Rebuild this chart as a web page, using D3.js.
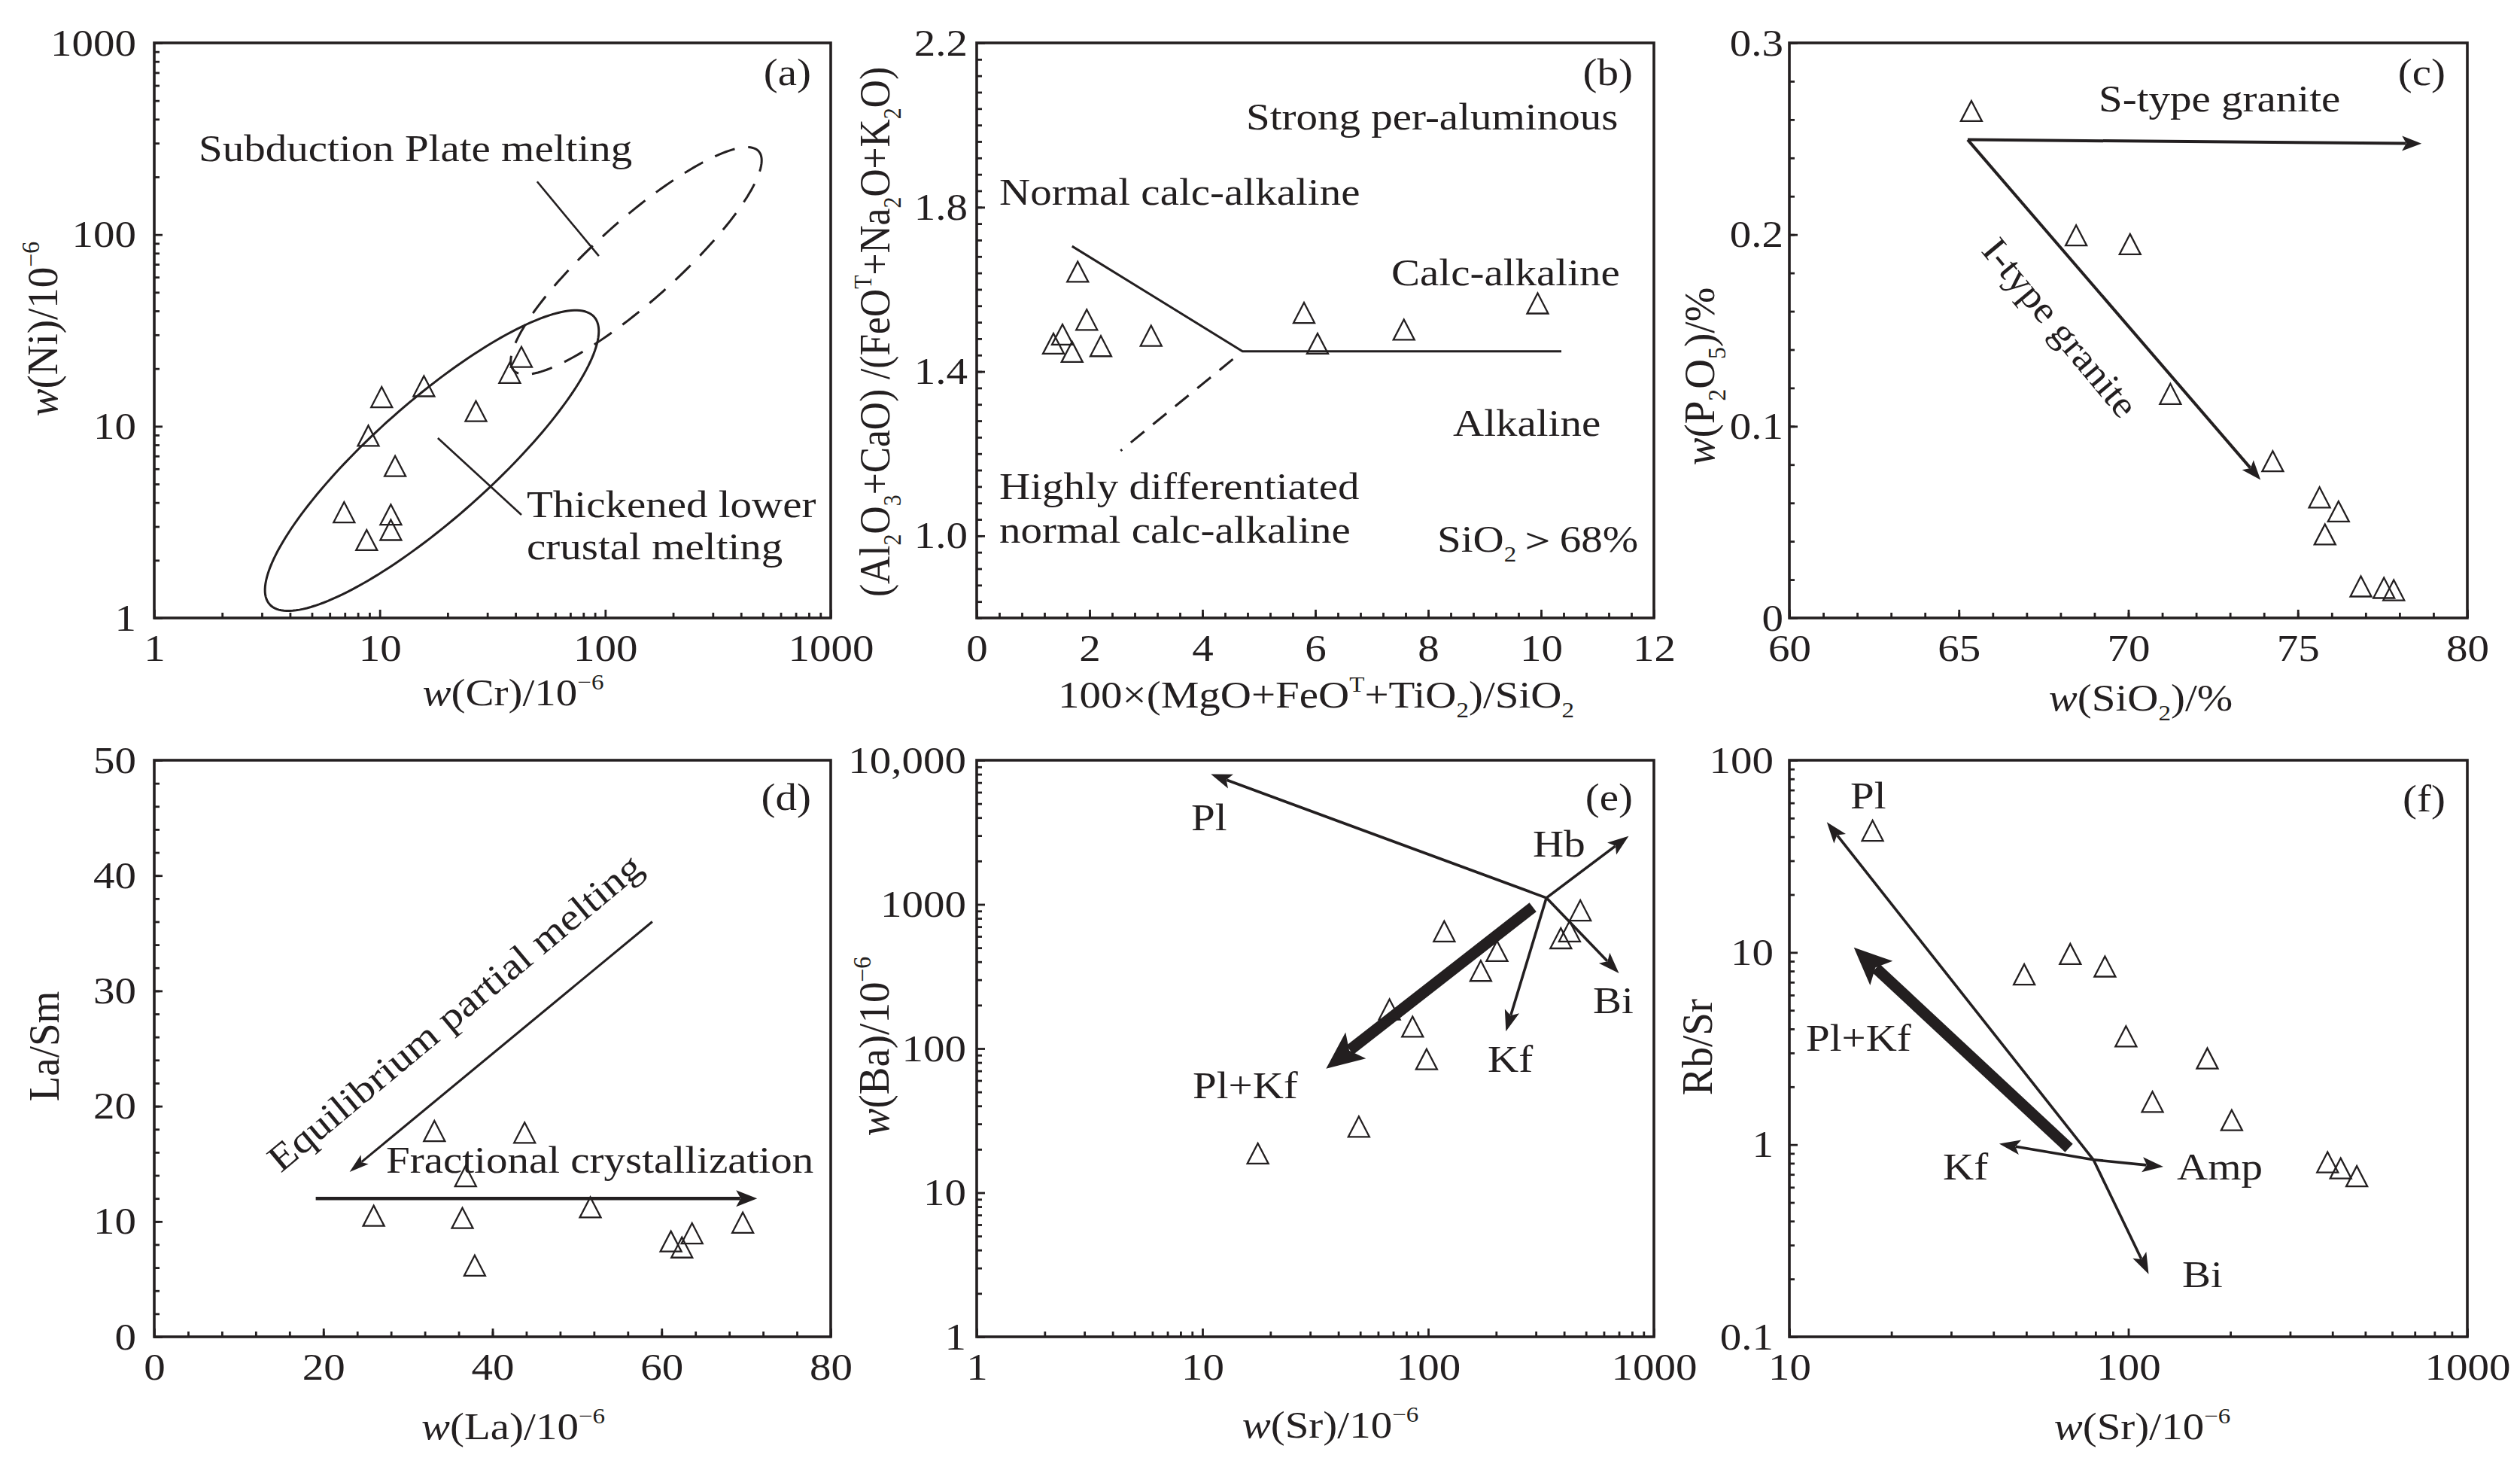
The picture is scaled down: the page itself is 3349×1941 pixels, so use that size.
<!DOCTYPE html>
<html>
<head>
<meta charset="utf-8">
<script src="https://cdn.jsdelivr.net/npm/d3@7"></script>
<style>
body { margin: 0; background: #fff; }
svg text { font-family: "Liberation Serif", "Times New Roman", serif; fill: #231f20; }
</style>
</head>
<body>
<svg id="fig" width="3349" height="1941"></svg>
<script>
// ---------- data ----------

// (a) Cr vs Ni
const crA = [6.95, 8.75, 8.9, 10.2, 11.7, 11.2, 11.2, 15.7, 26.7, 37.7, 42.5];
const niA = [3.56, 2.55, 8.93, 14.2, 6.2, 3.46, 2.88, 16.2, 12.0, 19.0, 23.0];
// field outlines: centre (Cr, Ni), then two conjugate half-axes in log10 decades
const thickenedField  = [17.03, 6.62, 0.7198, 0.7496, 0.1726, -0.2294];
const subductionField = [137.2, 72.98, 0.5433, 0.5714, 0.1201, -0.1581];
const leadersA = [[[49.9, 189], [93.7, 77.3]], [[18.1, 8.68], [42.5, 3.45]]];

// (b) 100*(MgO+FeOT+TiO2)/SiO2 vs (Al2O3+CaO)/(FeOT+Na2O+K2O)
const fmtB  = [1.36, 1.52, 1.69, 1.79, 1.95, 2.20, 3.09, 5.80, 6.04, 7.57, 9.94];
const acnkB = [1.468, 1.49, 1.448, 1.643, 1.526, 1.462, 1.487, 1.543, 1.468, 1.502, 1.566];
const boundaryB = [[1.69, 1.705], [4.71, 1.449], [10.36, 1.449]];
const dashedB   = [[4.54, 1.43], [2.55, 1.207]];

// (c) SiO2 vs P2O5
const sio2C = [65.37, 68.46, 70.05, 71.24, 74.26, 75.64, 76.2, 75.8, 76.86, 77.54, 77.83];
const p2o5C = [0.2645, 0.1996, 0.195, 0.1169, 0.0818, 0.0629, 0.0556, 0.0436, 0.0165, 0.0157, 0.0145];
const trendsC = [[[65.26, 0.2495], [78.65, 0.2475]], [[65.26, 0.2495], [73.9, 0.0721]]];

// (d) La vs La/Sm
const laD   = [25.95, 33.13, 36.82, 36.44, 37.9, 43.8, 51.57, 61.1, 62.4, 63.6, 69.6];
const lasmD = [10.5, 17.85, 13.93, 10.3, 6.18, 17.7, 11.23, 8.28, 7.75, 8.97, 9.9];
const meltingD = [[58.9, 36.0], [23.1, 14.3]];
const fractD   = [[19.1, 12.0], [71.3, 12.0]];

// (e) Sr vs Ba, (f) Sr vs Rb/Sr  (same samples)
const srEF = [17.6, 49.3, 67.4, 85.3, 98.4, 117.8, 171, 201.8, 387, 423, 472];
const baE  = [18.7, 28.7, 186.7, 141.8, 84.3, 650, 346, 475, 582, 650, 908];
const rbsrF = [43, 7.68, 9.82, 8.45, 3.66, 1.67, 2.81, 1.34, 0.81, 0.753, 0.685];
const vectorOriginE = [334, 1110];
const vectorTipsE = [[10.9, 8000], [773, 2980], [700, 333], [221, 131.5]];   // Pl, Hb, Bi, Kf
const mixVectorE = [[291, 956], [35.3, 72.6]];                                  // Pl+Kf
const vectorOriginF = [78.9, 0.834];
const vectorTipsF = [[12.9, 47.6], [114.8, 0.212], [41.6, 1.01], [126.8, 0.767]]; // Pl, Bi, Kf, Amp
const mixVectorF = [[66.8, 0.96], [15.5, 10.6]];

// tick labels
const decadesA = [1, 10, 100, 1000];
const ticksBx = [0, 2, 4, 6, 8, 10, 12];
const ticksBy = [1.0, 1.4, 1.8, 2.2];
const ticksCx = [60, 65, 70, 75, 80];
const ticksCy = [0, 0.1, 0.2, 0.3];
const ticksDx = [0, 20, 40, 60, 80];
const ticksDy = [0, 10, 20, 30, 40, 50];
const decadesEx = [1, 10, 100, 1000];
const decadesEy = [1, 10, 100, 1000, 10000];
const decadesFx = [10, 100, 1000];
const decadesFy = [0.1, 1, 10, 100];

// ---------- layout ----------
const ink = "#231f20";
const FS = 50, SX = 1.14;
const cols = [[205, 1104], [1298, 2198], [2378, 3279]];
const rows = [[57, 821], [1010, 1776]];

const svg = d3.select("#fig");

function makePanel(col, row, xs, ys) {
  const [x0, x1] = cols[col], [y0, y1] = rows[row];
  xs.range([x0, x1]);
  ys.range([y1, y0]);
  return {g: svg.append("g"), x: xs, y: ys, x0, x1, y0, y1, pt: d => [xs(d[0]), ys(d[1])]};
}

const logMinor = (lo, hi) => d3.range(Math.round(Math.log10(lo)), Math.round(Math.log10(hi)))
  .flatMap(e => d3.range(2, 10).map(k => k * Math.pow(10, e)));
const linMinor = (lo, hi, step) => d3.range(0, Math.round((hi - lo) / step) + 1).map(i => lo + i * step);

function styleAxis(sel) {
  sel.select(".domain").remove();
  sel.selectAll(".tick line").attr("stroke", ink).attr("stroke-width", 2.8);
  sel.selectAll(".tick text").style("font-size", FS + "px").attr("fill", ink)
    .attr("transform", `scale(${SX},1)`);
}

function axes(p, xMaj, xMin, yMaj, yMin, xFmt, yFmt, yGap) {
  p.g.append("g").attr("transform", `translate(0,${p.y1})`)
    .call(d3.axisBottom(p.x).tickSizeOuter(0).tickValues(xMin).tickSizeInner(-7).tickFormat("")).call(styleAxis);
  p.g.append("g").attr("transform", `translate(0,${p.y1})`)
    .call(d3.axisBottom(p.x).tickSizeOuter(0).tickValues(xMaj).tickSizeInner(-11).tickPadding(22).tickFormat(xFmt)).call(styleAxis);
  p.g.append("g").attr("transform", `translate(${p.x0},0)`)
    .call(d3.axisLeft(p.y).tickSizeOuter(0).tickValues(yMin).tickSizeInner(-7).tickFormat("")).call(styleAxis);
  p.g.append("g").attr("transform", `translate(${p.x0},0)`)
    .call(d3.axisLeft(p.y).tickSizeOuter(0).tickValues(yMaj).tickSizeInner(-11).tickPadding(yGap / SX).tickFormat(yFmt)).call(styleAxis);
  p.g.append("rect").attr("x", p.x0).attr("y", p.y0)
    .attr("width", p.x1 - p.x0).attr("height", p.y1 - p.y0)
    .attr("fill", "none").attr("stroke", ink).attr("stroke-width", 3.6);
}

// text with italic / sub / sup runs
function label(g, x, y, parts, opt = {}) {
  const size = opt.size || FS;
  const t = g.append("text")
    .attr("transform", `translate(${x},${y}) rotate(${opt.rot || 0}) scale(${opt.sx || SX},${opt.sy || 1})`)
    .attr("text-anchor", opt.anchor || "start")
    .style("font-size", size + "px");
  let off = 0;
  parts.forEach(q => {
    if (typeof q === "string") q = {t: q};
    const want = q.sub ? 0.26 * size : q.sup ? -0.42 * size : 0;
    const ts = t.append("tspan").text(q.t).attr("dy", want - off);
    off = want;
    if (q.sub || q.sup) ts.style("font-size", (0.58 * size) + "px");
    if (q.it) ts.style("font-style", "italic");
  });
  return t;
}
// y titles: the source figure is stretched horizontally, i.e. across these rotated glyphs
const yTitle = (g, x, y, parts, along) => label(g, x, y, parts, {anchor: "middle", rot: -90, sx: along, sy: SX});

const triangle = "M0,-13.5L14,13.5L-14,13.5Z";
function points(p, xs, ys) {
  p.g.append("g").selectAll("path").data(d3.zip(xs, ys)).join("path")
    .attr("d", triangle)
    .attr("transform", d => `translate(${p.x(d[0])},${p.y(d[1])})`)
    .attr("fill", "none").attr("stroke", ink).attr("stroke-width", 2.3);
}

function arrow(g, a, b, w, hl, hw) {
  const dx = b[0] - a[0], dy = b[1] - a[1], L = Math.hypot(dx, dy);
  const ux = dx / L, uy = dy / L;
  g.append("line")
    .attr("x1", a[0]).attr("y1", a[1])
    .attr("x2", b[0] - ux * hl * 0.8).attr("y2", b[1] - uy * hl * 0.8)
    .attr("stroke", ink).attr("stroke-width", w);
  const bx = b[0] - ux * hl, by = b[1] - uy * hl;
  g.append("path")
    .attr("d", `M${b[0]},${b[1]}L${bx - uy * hw},${by + ux * hw}L${b[0] - ux * hl * 0.78},${b[1] - uy * hl * 0.78}L${bx + uy * hw},${by - ux * hw}Z`)
    .attr("fill", ink);
}

function field(p, f, dash) {
  const [cx, cy, ax, ay, bx, by] = f;
  const ring = d3.range(0, 361, 2).map(a => {
    const t = a * Math.PI / 180;
    return [cx * Math.pow(10, Math.cos(t) * ax + Math.sin(t) * bx),
            cy * Math.pow(10, Math.cos(t) * ay + Math.sin(t) * by)];
  });
  p.g.append("path").datum(ring)
    .attr("d", d3.line().x(d => p.x(d[0])).y(d => p.y(d[1])).curve(d3.curveLinearClosed))
    .attr("fill", "none").attr("stroke", ink).attr("stroke-width", 3)
    .attr("stroke-dasharray", dash);
}

function polyline(p, pts, w, dash) {
  p.g.append("path").datum(pts)
    .attr("d", d3.line().x(d => p.x(d[0])).y(d => p.y(d[1])))
    .attr("fill", "none").attr("stroke", ink).attr("stroke-width", w)
    .attr("stroke-dasharray", dash);
}

const plain = d => String(d);
const wUnit = (el) => [{t: "w", it: true}, "(" + el + ")/10", {t: "\u22126", sup: true}];

// ---------- (a) ----------
{
  const p = makePanel(0, 0, d3.scaleLog().domain([1, 1000]), d3.scaleLog().domain([1, 1000]));
  axes(p, decadesA, logMinor(1, 1000), decadesA, logMinor(1, 1000), plain, plain, 24);
  field(p, thickenedField, null);
  field(p, subductionField, "28 18");
  leadersA.forEach(l => polyline(p, l, 2.6, null));
  points(p, crA, niA);
  label(p.g, 1078, 113, ["(a)"], {anchor: "end"});
  label(p.g, 264, 214, ["Subduction Plate melting"]);
  label(p.g, 700, 687, ["Thickened lower"]);
  label(p.g, 700, 743, ["crustal melting"]);
  label(p.g, 682, 937, wUnit("Cr"), {anchor: "middle"});
  yTitle(p.g, 76, 437, wUnit("Ni"), 1.1);
}

// ---------- (b) ----------
{
  const p = makePanel(1, 0, d3.scaleLinear().domain([0, 12]), d3.scaleLinear().domain([0.8, 2.2]));
  axes(p, ticksBx, linMinor(0, 12, 0.4), ticksBy, linMinor(0.8, 2.2, 0.04), plain, d3.format(".1f"), 12);
  polyline(p, boundaryB, 3, null);
  polyline(p, dashedB, 3, "23 15");
  points(p, fmtB, acnkB);
  label(p.g, 2170, 113, ["(b)"], {anchor: "end"});
  label(p.g, 1656, 172, ["Strong per-aluminous"]);
  label(p.g, 1328, 272, ["Normal calc-alkaline"]);
  label(p.g, 1849, 379, ["Calc-alkaline"]);
  label(p.g, 1931, 579, ["Alkaline"]);
  label(p.g, 1328, 663, ["Highly differentiated"]);
  label(p.g, 1328, 721, ["normal calc-alkaline"]);
  label(p.g, 1910, 733, ["SiO", {t: "2", sub: true}, "\uFF1E68%"]);
  label(p.g, 1749, 940, ["100\u00D7(MgO+FeO", {t: "T", sup: true}, "+TiO", {t: "2", sub: true}, ")/SiO", {t: "2", sub: true}], {anchor: "middle"});
  yTitle(p.g, 1182, 441, ["(Al", {t: "2", sub: true}, "O", {t: "3", sub: true}, "+CaO) /(FeO", {t: "T", sup: true},
    "+Na", {t: "2", sub: true}, "O+K", {t: "2", sub: true}, "O)"], 1.03);
}

// ---------- (c) ----------
{
  const p = makePanel(2, 0, d3.scaleLinear().domain([60, 80]), d3.scaleLinear().domain([0, 0.3]));
  axes(p, ticksCx, linMinor(60, 80, 1), ticksCy, linMinor(0, 0.3, 0.02), plain, plain, 8);
  trendsC.forEach(t => arrow(p.g, p.pt(t[0]), p.pt(t[1]), 4, 26, 10));
  points(p, sio2C, p2o5C);
  label(p.g, 3250, 113, ["(c)"], {anchor: "end"});
  label(p.g, 2789, 148, ["S-type granite"]);
  label(p.g, 2725, 446, ["I-type granite"], {anchor: "middle", rot: 50.3, sx: 1.08});
  label(p.g, 2845, 944, [{t: "w", it: true}, "(SiO", {t: "2", sub: true}, ")/%"], {anchor: "middle"});
  yTitle(p.g, 2278, 500, [{t: "w", it: true}, "(P", {t: "2", sub: true}, "O", {t: "5", sub: true}, ")/%"], 1.1);
}

// ---------- (d) ----------
{
  const p = makePanel(0, 1, d3.scaleLinear().domain([0, 80]), d3.scaleLinear().domain([0, 50]));
  axes(p, ticksDx, linMinor(0, 80, 4), ticksDy, linMinor(0, 50, 2), plain, plain, 24);
  arrow(p.g, p.pt(meltingD[0]), p.pt(meltingD[1]), 3, 26, 8);
  arrow(p.g, p.pt(fractD[0]), p.pt(fractD[1]), 4.5, 28, 11);
  points(p, laD, lasmD);
  label(p.g, 1078, 1076, ["(d)"], {anchor: "end"});
  label(p.g, 615, 1358, ["Equilibrium partial melting"], {anchor: "middle", rot: -39.7, sx: 1.15});
  label(p.g, 513, 1558, ["Fractional crystallization"]);
  label(p.g, 682, 1912, wUnit("La"), {anchor: "middle"});
  yTitle(p.g, 78, 1390, ["La/Sm"], 1.1);
}

// ---------- (e) ----------
{
  const p = makePanel(1, 1, d3.scaleLog().domain([1, 1000]), d3.scaleLog().domain([1, 10000]));
  axes(p, decadesEx, logMinor(1, 1000), decadesEy, logMinor(1, 10000), plain,
    d => d >= 10000 ? d3.format(",")(d) : String(d), 14);
  vectorTipsE.forEach(t => arrow(p.g, p.pt(vectorOriginE), p.pt(t), 3.6, 28, 10));
  arrow(p.g, p.pt(mixVectorE[0]), p.pt(mixVectorE[1]), 15, 50, 22);
  points(p, srEF, baE);
  label(p.g, 2170, 1076, ["(e)"], {anchor: "end"});
  label(p.g, 1583, 1103, ["Pl"]);
  label(p.g, 2037, 1138, ["Hb"]);
  label(p.g, 2117, 1346, ["Bi"]);
  label(p.g, 1977, 1424, ["Kf"]);
  label(p.g, 1585, 1459, ["Pl+Kf"]);
  label(p.g, 1768, 1910, wUnit("Sr"), {anchor: "middle"});
  yTitle(p.g, 1181, 1390, wUnit("Ba"), 1.1);
}

// ---------- (f) ----------
{
  const p = makePanel(2, 1, d3.scaleLog().domain([10, 1000]), d3.scaleLog().domain([0.1, 100]));
  axes(p, decadesFx, logMinor(10, 1000), decadesFy, logMinor(0.1, 100), plain, plain, 21);
  vectorTipsF.forEach(t => arrow(p.g, p.pt(vectorOriginF), p.pt(t), 3.6, 28, 10));
  arrow(p.g, p.pt(mixVectorF[0]), p.pt(mixVectorF[1]), 15, 50, 22);
  points(p, srEF, rbsrF);
  label(p.g, 3250, 1078, ["(f)"], {anchor: "end"});
  label(p.g, 2459, 1074, ["Pl"]);
  label(p.g, 2400, 1396, ["Pl+Kf"]);
  label(p.g, 2582, 1567, ["Kf"]);
  label(p.g, 2893, 1567, ["Amp"]);
  label(p.g, 2900, 1710, ["Bi"]);
  label(p.g, 2847, 1912, wUnit("Sr"), {anchor: "middle"});
  yTitle(p.g, 2275, 1391, ["Rb/Sr"], 1.1);
}
</script>
</body>
</html>
